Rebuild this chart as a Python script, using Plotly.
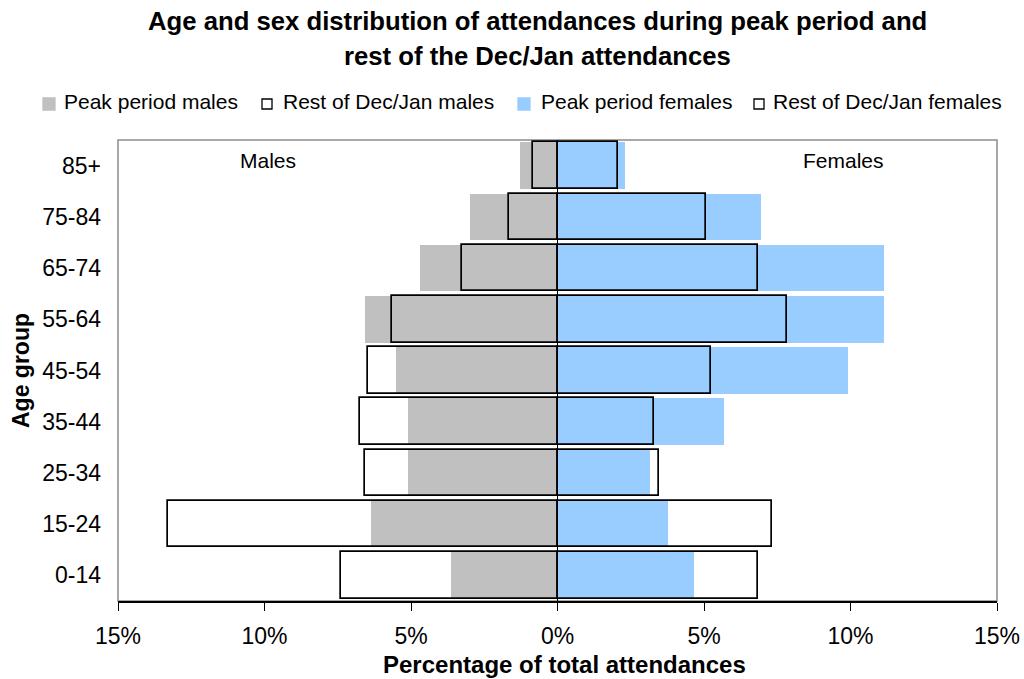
import plotly.graph_objects as go

# Age groups, bottom to top
age_groups = ["0-14", "15-24", "25-34", "35-44", "45-54", "55-64", "65-74", "75-84", "85+"]

# Percentage of total attendances
peak_males = [3.64, 6.37, 5.10, 5.10, 5.51, 6.57, 4.69, 2.99, 1.29]
rest_males = [7.40, 13.31, 6.57, 6.74, 6.47, 5.64, 3.26, 1.66, 0.83]
peak_females = [4.65, 3.76, 3.15, 5.69, 9.90, 11.16, 11.16, 6.96, 2.32]
rest_females = [6.83, 7.33, 3.46, 3.31, 5.24, 7.84, 6.84, 5.07, 2.05]

tick_vals = [-15, -10, -5, 0, 5, 10, 15]
tick_text = ["15%", "10%", "5%", "0%", "5%", "10%", "15%"]

series_names = ["Peak period males", "Rest of Dec/Jan males",
                "Peak period females", "Rest of Dec/Jan females"]

FONT = "Arial, Liberation Sans, sans-serif"
GREY = "#C0C0C0"
BLUE = "#99CCFF"
CLEAR = "rgba(0,0,0,0)"
BAR_W = 0.909

W, H = 1024, 679
M_L, M_R, M_T, M_B = 118, 27, 140, 78
PLOT_W = W - M_L - M_R
PLOT_H = H - M_T - M_B


def py(px_from_top):
    """Pixel row (from top of figure) -> paper y."""
    return (H - M_B - px_from_top) / PLOT_H


def px(px_from_left):
    """Pixel column (from left of figure) -> paper x."""
    return (px_from_left - M_L) / PLOT_W


fig = go.Figure()

# filled bars for the peak period, outlined bars for the rest of Dec/Jan on top
fig.add_trace(go.Bar(y=age_groups, x=[-v for v in peak_males], orientation="h",
                     name=series_names[0], width=BAR_W,
                     marker=dict(color=GREY, line=dict(width=0))))
fig.add_trace(go.Bar(y=age_groups, x=peak_females, orientation="h",
                     name=series_names[2], width=BAR_W,
                     marker=dict(color=BLUE, line=dict(width=0))))
fig.add_trace(go.Bar(y=age_groups, x=[-v for v in rest_males], orientation="h",
                     name=series_names[1], width=BAR_W,
                     marker=dict(color=CLEAR, line=dict(color="black", width=1.7))))
fig.add_trace(go.Bar(y=age_groups, x=rest_females, orientation="h",
                     name=series_names[3], width=BAR_W,
                     marker=dict(color=CLEAR, line=dict(color="black", width=1.7))))

# legend row: swatch left edge, swatch fill, swatch outline, text left edge
legend_items = [
    (43, GREY, GREY, 62),
    (262, "white", "black", 281),
    (518, BLUE, BLUE, 539),
    (754, "white", "black", 771),
]
LEG_Y = 102
shapes = [dict(type="rect", xref="paper", yref="paper", x0=0, x1=1, y0=0, y1=1,
               line=dict(color="#8C8C8C", width=1.5), layer="below")]
annotations = []
for (sx, fill, edge, tx), label in zip(legend_items, series_names):
    size = 12 if fill != "white" else 10
    shapes.append(dict(type="rect", xref="paper", yref="paper",
                       x0=px(sx), x1=px(sx + size),
                       y0=py(LEG_Y + 2 + size / 2), y1=py(LEG_Y + 2 - size / 2),
                       fillcolor=fill, line=dict(color=edge, width=1.3)))
    annotations.append(dict(text=label, xref="paper", yref="paper",
                            x=px(tx), y=py(LEG_Y), xanchor="left", yanchor="middle",
                            showarrow=False, font=dict(size=21)))

annotations += [
    dict(text="<b>Age and sex distribution of attendances during peak period and</b>",
         xref="paper", yref="paper", x=px(537.5), y=py(21), yanchor="middle",
         showarrow=False, font=dict(size=25.7)),
    dict(text="<b>rest of the Dec/Jan attendances</b>",
         xref="paper", yref="paper", x=px(537.5), y=py(56), yanchor="middle",
         showarrow=False, font=dict(size=25.7)),
    dict(text="<b>Percentage of total attendances</b>",
         xref="paper", yref="paper", x=px(564), y=py(664), yanchor="middle",
         showarrow=False, font=dict(size=24)),
    dict(text="<b>Age group</b>", textangle=-90,
         xref="paper", yref="paper", x=px(21), y=py(371), xanchor="center", yanchor="middle",
         showarrow=False, font=dict(size=23)),
    dict(text="Males", xref="x", yref="paper", x=-9.87, y=py(160), yanchor="middle",
         showarrow=False, font=dict(size=21)),
    dict(text="Females", xref="x", yref="paper", x=9.77, y=py(160), yanchor="middle",
         showarrow=False, font=dict(size=21)),
]

fig.update_layout(
    width=W, height=H,
    margin=dict(l=M_L, r=M_R, t=M_T, b=M_B, autoexpand=False),
    barmode="overlay",
    bargap=0,
    paper_bgcolor="white",
    plot_bgcolor="white",
    font=dict(family=FONT, color="black", size=18),
    showlegend=False,
    xaxis=dict(
        range=[-15, 15], tickvals=tick_vals, ticktext=tick_text,
        ticks="outside", ticklen=8, tickcolor="black", tickwidth=1.3,
        showgrid=False, zeroline=True, zerolinecolor="black", zerolinewidth=1.3,
        showline=True, linecolor="black", linewidth=1.5,
        layer="above traces", automargin=False,
        tickfont=dict(size=23), ticklabelstandoff=6,
    ),
    yaxis=dict(
        categoryorder="array", categoryarray=age_groups,
        showgrid=False, zeroline=False, ticks="", showline=False,
        automargin=False,
        tickfont=dict(size=23), ticklabelstandoff=16,
    ),
    shapes=shapes,
    annotations=annotations,
)

fig.write_html("out.html")
